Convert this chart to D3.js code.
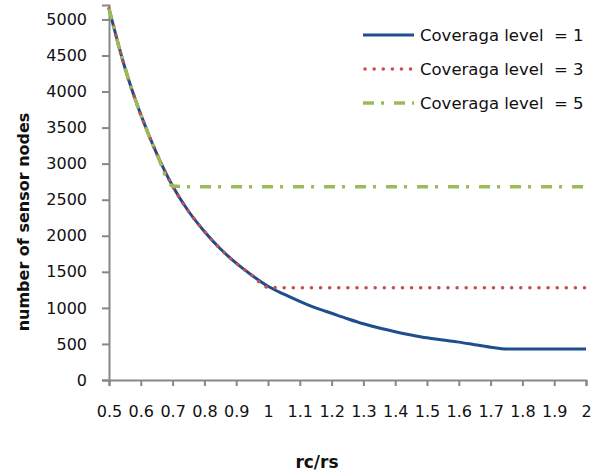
<!DOCTYPE html>
<html>
<head>
<meta charset="utf-8">
<script src="https://cdn.jsdelivr.net/npm/d3@7"></script>
<style>
  body { margin: 0; background: #fff; }
  svg text { font-family: "DejaVu Sans", sans-serif; fill: #111; }
</style>
</head>
<body>
<script>
// ratio rc/rs
const ratios = [0.50, 0.55, 0.60, 0.65, 0.70, 0.75, 0.80, 0.85, 0.90, 0.95,
  1.00, 1.05, 1.10, 1.15, 1.20, 1.25, 1.30, 1.35, 1.40, 1.45,
  1.50, 1.55, 1.60, 1.65, 1.70, 1.75, 1.80, 1.85, 1.90, 1.95, 2.00];

// number of sensor nodes
const level1 = [5150, 4330, 3680, 3140, 2690, 2340, 2060, 1820, 1620, 1450,
  1300, 1190, 1090, 1000, 925, 850, 780, 720, 670, 625,
  585, 555, 525, 490, 455, 430, 430, 430, 430, 430, 430];
const level3 = [5150, 4330, 3680, 3140, 2690, 2340, 2060, 1820, 1620, 1450,
  1285, 1280, 1280, 1280, 1280, 1280, 1280, 1280, 1280, 1280,
  1280, 1280, 1280, 1280, 1280, 1280, 1280, 1280, 1280, 1280, 1280];
const level5 = [5150, 4330, 3680, 3140, 2690, 2680, 2680, 2680, 2680, 2680,
  2680, 2680, 2680, 2680, 2680, 2680, 2680, 2680, 2680, 2680,
  2680, 2680, 2680, 2680, 2680, 2680, 2680, 2680, 2680, 2680, 2680];

const seriesNames = ['Coveraga level  = 1', 'Coveraga level  = 3', 'Coveraga level  = 5'];

const xTicks = [0.5, 0.6, 0.7, 0.8, 0.9, 1, 1.1, 1.2, 1.3, 1.4, 1.5, 1.6, 1.7, 1.8, 1.9, 2];
const yTicks = [0, 500, 1000, 1500, 2000, 2500, 3000, 3500, 4000, 4500, 5000];

const w = 612;
const h = 475;
const axisColor = '#878787';

const svg = d3.select('body')
  .append('svg')
  .attr('width', w)
  .attr('height', h);

// Scales
const x = d3.scaleLinear().domain([0.5, 2]).range([109, 586]);
const y = d3.scaleLinear().domain([0, 5200]).range([380, 5]);

// X axis
const xAxis = svg.append('g')
  .attr('transform', `translate(0, ${y(0)})`)
  .call(d3.axisBottom(x).tickValues(xTicks).tickSizeOuter(0).tickSize(6)
    .tickFormat(d3.format('')));
xAxis.select('.domain').attr('stroke', axisColor).attr('stroke-width', 2);
xAxis.selectAll('.tick line').attr('stroke', axisColor).attr('stroke-width', 2);
xAxis.selectAll('.tick text')
  .attr('dy', null)
  .attr('y', 37)
  .style('font-size', '16px')
  .attr('fill', '#111');

// Y axis
const yAxis = svg.append('g')
  .attr('transform', `translate(${x(0.5)}, 0)`)
  .call(d3.axisLeft(y).tickValues(yTicks).tickSizeOuter(0).tickSize(7).tickPadding(15)
    .tickFormat(d3.format('d')));
yAxis.select('.domain').attr('stroke', axisColor).attr('stroke-width', 2);
yAxis.selectAll('.tick line').attr('stroke', axisColor).attr('stroke-width', 2);
yAxis.selectAll('.tick text')
  .style('font-size', '16px')
  .attr('fill', '#111');

// Lines
const series = [
  { name: seriesNames[0], values: level1, color: '#1F4E8C', width: 3, dash: null, cap: 'butt' },
  { name: seriesNames[1], values: level3, color: '#C94F4F', width: 3.5, dash: '0.1,9', cap: 'round' },
  { name: seriesNames[2], values: level5, color: '#9BBB59', width: 3.5, dash: '11,7,3,10', cap: 'butt' }
];

const line = d3.line()
  .x((d, i) => x(ratios[i]))
  .y(d => y(d))
  .curve(d3.curveMonotoneX);

series.forEach((s) => {
  svg.append('path')
    .datum(s.values)
    .attr('fill', 'none')
    .attr('stroke', s.color)
    .attr('stroke-width', s.width)
    .attr('stroke-linecap', s.cap)
    .attr('stroke-dasharray', s.dash)
    .attr('d', line);
});

// Legend
const legend = svg.append('g').attr('transform', 'translate(363, 35)');
series.forEach((s, i) => {
  const row = legend.append('g').attr('transform', `translate(0, ${i * 34})`);
  row.append('line')
    .attr('x1', s.cap === 'round' ? 2 : 0)
    .attr('x2', 51)
    .attr('stroke', s.color)
    .attr('stroke-width', s.width)
    .attr('stroke-linecap', s.cap)
    .attr('stroke-dasharray', s.dash);
  row.append('text')
    .attr('x', 57)
    .attr('y', 6)
    .style('font-size', '16.5px')
    .style('white-space', 'pre')
    .text(s.name);
});

// Axis titles
svg.append('text')
  .attr('transform', 'translate(29, 222) rotate(-90)')
  .attr('text-anchor', 'middle')
  .style('font-size', '16px')
  .style('font-weight', 'bold')
  .text('number of sensor nodes');

svg.append('text')
  .attr('x', 317)
  .attr('y', 468)
  .attr('text-anchor', 'middle')
  .style('font-size', '17px')
  .style('font-weight', 'bold')
  .text('rc/rs');
</script>
</body>
</html>
